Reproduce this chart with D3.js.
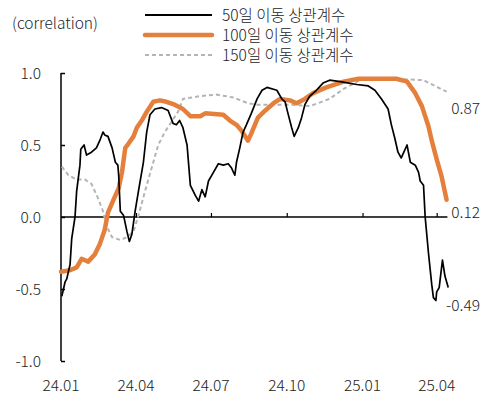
<!DOCTYPE html>
<html><head><meta charset="utf-8">
<script src="https://cdn.jsdelivr.net/npm/d3@7"></script>
<style>
html,body{margin:0;padding:0;background:#fff;}
text{font-family:"Noto Sans CJK KR","Noto Sans",sans-serif;fill:#222;font-weight:300;}
</style></head>
<body><svg id="c" width="491" height="402"></svg>
<script>
const seriesNames = ["50일 이동 상관계수", "100일 이동 상관계수", "150일 이동 상관계수"];
const yTicks = [1.0, 0.5, 0.0, -0.5, -1.0];
const xTickLabels = ["24.01", "24.04", "24.07", "24.10", "25.01", "25.04"];
const xTickDates = ["2024-01-01", "2024-04-01", "2024-07-01", "2024-10-01", "2025-01-01", "2025-04-01"];

const ma50 = [
["2024-01-02",-0.55],["2024-01-06",-0.45],["2024-01-08",-0.43],["2024-01-12",-0.33],["2024-01-14",-0.15],
["2024-01-18",0.00],["2024-01-20",0.18],["2024-01-24",0.36],["2024-01-25",0.47],["2024-01-29",0.50],
["2024-02-01",0.43],["2024-02-07",0.45],["2024-02-13",0.48],["2024-02-17",0.53],["2024-02-21",0.59],
["2024-02-23",0.57],["2024-02-27",0.56],["2024-03-03",0.48],["2024-03-07",0.38],["2024-03-10",0.36],
["2024-03-11",0.29],["2024-03-13",0.04],["2024-03-17",0.01],["2024-03-21",-0.10],["2024-03-24",-0.17],
["2024-03-27",-0.12],["2024-03-31",0.04],["2024-04-04",0.18],["2024-04-10",0.38],["2024-04-14",0.59],
["2024-04-18",0.71],["2024-04-24",0.75],["2024-05-02",0.76],["2024-05-10",0.74],["2024-05-16",0.65],
["2024-05-20",0.64],["2024-05-24",0.67],["2024-05-28",0.62],["2024-06-02",0.50],["2024-06-06",0.22],
["2024-06-12",0.15],["2024-06-16",0.11],["2024-06-20",0.19],["2024-06-24",0.14],["2024-06-28",0.25],
["2024-07-04",0.31],["2024-07-10",0.37],["2024-07-16",0.36],["2024-07-22",0.37],["2024-07-26",0.34],
["2024-07-30",0.29],["2024-08-01",0.38],["2024-08-05",0.48],["2024-08-09",0.59],["2024-08-13",0.64],
["2024-08-19",0.72],["2024-08-26",0.82],["2024-09-01",0.88],["2024-09-07",0.90],["2024-09-19",0.88],
["2024-09-25",0.82],["2024-09-29",0.80],["2024-10-02",0.73],["2024-10-07",0.62],["2024-10-10",0.56],
["2024-10-15",0.62],["2024-10-19",0.69],["2024-10-23",0.78],["2024-10-29",0.84],["2024-11-06",0.88],
["2024-11-14",0.93],["2024-11-22",0.95],["2024-12-05",0.94],["2024-12-25",0.92],["2025-01-08",0.91],
["2025-01-16",0.88],["2025-01-24",0.82],["2025-02-01",0.75],["2025-02-05",0.64],["2025-02-09",0.55],
["2025-02-13",0.45],["2025-02-17",0.41],["2025-02-24",0.50],["2025-02-28",0.38],["2025-03-06",0.36],
["2025-03-10",0.31],["2025-03-12",0.25],["2025-03-16",0.22],["2025-03-18",0.00],["2025-03-22",-0.25],
["2025-03-26",-0.47],["2025-03-28",-0.56],["2025-03-31",-0.58],["2025-04-01",-0.52],["2025-04-04",-0.49],
["2025-04-08",-0.30],["2025-04-11",-0.41],["2025-04-15",-0.49]
];
const ma100 = [
["2024-01-01",-0.38],["2024-01-12",-0.37],["2024-01-20",-0.35],["2024-01-26",-0.29],["2024-02-03",-0.31],
["2024-02-11",-0.26],["2024-02-17",-0.19],["2024-02-23",-0.09],["2024-02-27",0.03],["2024-03-04",0.11],
["2024-03-11",0.20],["2024-03-15",0.31],["2024-03-19",0.48],["2024-03-23",0.51],["2024-03-29",0.56],
["2024-04-02",0.62],["2024-04-08",0.67],["2024-04-14",0.73],["2024-04-22",0.80],["2024-04-30",0.81],
["2024-05-08",0.80],["2024-05-18",0.78],["2024-05-28",0.75],["2024-06-06",0.70],["2024-06-18",0.70],
["2024-06-24",0.72],["2024-07-16",0.71],["2024-07-24",0.67],["2024-08-01",0.64],["2024-08-07",0.60],
["2024-08-15",0.53],["2024-08-19",0.58],["2024-08-27",0.69],["2024-09-05",0.74],["2024-09-15",0.79],
["2024-09-23",0.82],["2024-10-05",0.81],["2024-10-13",0.79],["2024-10-23",0.82],["2024-11-02",0.86],
["2024-11-18",0.90],["2024-12-09",0.94],["2024-12-27",0.96],["2025-02-11",0.96],["2025-02-24",0.94],
["2025-03-06",0.86],["2025-03-14",0.77],["2025-03-22",0.63],["2025-03-26",0.53],["2025-04-01",0.40],
["2025-04-07",0.28],["2025-04-13",0.12]
];
const ma150 = [
["2024-01-02",0.35],["2024-01-10",0.29],["2024-01-20",0.26],["2024-01-30",0.26],["2024-02-07",0.23],
["2024-02-15",0.13],["2024-02-21",0.04],["2024-02-25",-0.06],["2024-03-03",-0.14],["2024-03-13",-0.16],
["2024-03-21",-0.14],["2024-03-29",-0.10],["2024-04-04",0.01],["2024-04-12",0.18],["2024-04-20",0.34],
["2024-04-28",0.50],["2024-05-06",0.59],["2024-05-14",0.66],["2024-05-22",0.73],["2024-05-28",0.82],
["2024-06-18",0.84],["2024-07-08",0.85],["2024-07-28",0.83],["2024-08-15",0.79],["2024-08-26",0.78],
["2024-09-15",0.78],["2024-10-05",0.78],["2024-10-29",0.77],["2024-11-22",0.82],["2024-12-09",0.89],
["2024-12-29",0.95],["2025-02-07",0.96],["2025-03-16",0.95],["2025-04-13",0.87]
];
const endLabels = ["0.87", "0.12", "-0.49"];

const parse = d3.timeParse("%Y-%m-%d");
const svg = d3.select("#c");
const x = d3.scaleTime().domain([parse("2024-01-01"), parse("2025-04-01")]).range([61, 436.7]);
const y = d3.scaleLinear().domain([-1, 1]).range([361, 73]);

// y axis
const ya = svg.append("g").attr("transform", "translate(61,0)")
  .call(d3.axisRight(y).tickValues(yTicks).tickSize(4).tickFormat(""));
ya.select(".domain").attr("stroke", "#000").attr("stroke-width", 1.5).attr("d", `M0,${y(1)}V${y(-1)}`);
ya.selectAll(".tick line").attr("stroke", "#000").attr("stroke-width", 1.5);
svg.append("g").selectAll("text").data(yTicks).join("text")
  .attr("x", 41).attr("y", d => y(d)).attr("dy", "0.36em").attr("text-anchor", "end")
  .attr("font-size", 15.5).text(d => d3.format(".1f")(d).replace("−", "-"));

// x axis at zero
const lastDate = parse("2025-04-14");
const xa = svg.append("g").attr("transform", `translate(0,${y(0)})`)
  .call(d3.axisTop(x).tickValues(xTickDates.map(parse).slice(1)).tickSize(4).tickFormat(""));
xa.select(".domain").attr("stroke", "#000").attr("stroke-width", 1.5).attr("d", `M61,0H${x(lastDate)}`);
xa.selectAll(".tick line").attr("stroke", "#000").attr("stroke-width", 1.2);
svg.append("g").selectAll("text").data(xTickDates).join("text")
  .attr("x", (d) => x(parse(d))).attr("y", 385).attr("dy", "0.36em").attr("text-anchor", "middle")
  .attr("font-size", 15.5).text((d, i) => xTickLabels[i]);

const line = d3.line().x(d => x(parse(d[0]))).y(d => y(d[1]));
svg.append("path").datum(ma150).attr("fill", "none").attr("stroke", "#B4B4B4")
  .attr("stroke-width", 2).attr("stroke-dasharray", "4,3").attr("d", line);
svg.append("path").datum(ma100).attr("fill", "none").attr("stroke", "#E5803C")
  .attr("stroke-width", 4.5).attr("stroke-linejoin", "round").attr("stroke-linecap", "round").attr("d", line);
svg.append("path").datum(ma50).attr("fill", "none").attr("stroke", "#000")
  .attr("stroke-width", 1.7).attr("stroke-linejoin", "round").attr("d", line);

// end labels
const labelY = [108, 212, 305];
svg.append("g").selectAll("text").data(endLabels).join("text")
  .attr("x", 480).attr("y", (d, i) => labelY[i]).attr("dy", "0.36em").attr("text-anchor", "end")
  .attr("font-size", 15.5).text(d => d);

// title
svg.append("text").attr("x", 12).attr("y", 23).attr("dy", "0.36em").attr("font-size", 15.5).text("(correlation)");

// legend
const legY = [15, 35, 55];
const styles = [
  {c: "#000", w: 2, da: null},
  {c: "#E5803C", w: 4.5, da: null},
  {c: "#B4B4B4", w: 2, da: "4,3"}
];
const lg = svg.append("g");
seriesNames.forEach((n, i) => {
  lg.append("line").attr("x1", 145).attr("x2", 212).attr("y1", legY[i]).attr("y2", legY[i])
    .attr("stroke", styles[i].c).attr("stroke-width", styles[i].w)
    .attr("stroke-dasharray", styles[i].da).attr("stroke-linecap", i === 1 ? "round" : "butt");
  lg.append("text").attr("x", 222).attr("y", legY[i]).attr("dy", "0.36em").attr("font-size", 15.5).text(n);
});
</script></body></html>
